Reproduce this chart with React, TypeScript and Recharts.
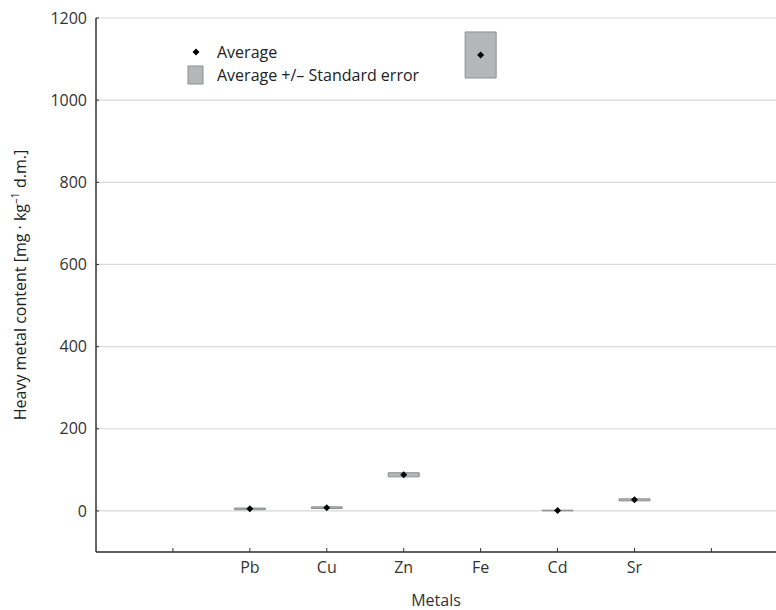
import React from 'react';
import {
  ComposedChart,
  Bar,
  Scatter,
  XAxis,
  YAxis,
  CartesianGrid,
} from 'recharts';

const metals = ['Pb', 'Cu', 'Zn', 'Fe', 'Cd', 'Sr'];
const averages = [5, 8, 88, 1110, 1, 27];
const stdErrors = [2, 2, 5, 56, 0.8, 2.5];
const yTicks = [0, 200, 400, 600, 800, 1000, 1200];
const xTicks = [1, 2, 3, 4, 5, 6, 7, 8];

// metals sit on slots 2..7, slots 1 and 8 stay empty
const data = metals.map((name, i) => ({
  name,
  pos: i + 2,
  avg: averages[i],
  range: [averages[i] - stdErrors[i], averages[i] + stdErrors[i]],
}));

const tickLabel = (v: number) => {
  const d = data.find((r) => r.pos === v);
  return d ? d.name : '';
};

const FONT = '"Open Sans", "Noto Sans", sans-serif';
const FS = 16;
const AXIS = '#333333';
const BOX_FILL = '#b4b6b8';
const BOX_STROKE = '#8d8f91';

const Diamond = (props: any) => {
  const { cx, cy } = props;
  if (cx == null || cy == null) return null;
  const r = 3.5;
  return (
    <polygon
      points={`${cx},${cy - r} ${cx + r},${cy} ${cx},${cy + r} ${cx - r},${cy}`}
      fill="#000"
    />
  );
};

const LegendOverlay = () => (
  <svg
    width={460}
    height={100}
    style={{ position: 'absolute', left: 0, top: 0, pointerEvents: 'none' }}
  >
    <polygon points="196,48.5 199.5,52 196,55.5 192.5,52" fill="#000" />
    <text x={217} y={57.5} fontFamily={FONT} fontSize={FS} fill="#222">
      Average
    </text>
    <rect x={188} y={66} width={15} height={18} fill={BOX_FILL} stroke={BOX_STROKE} />
    <text x={217} y={80.5} fontFamily={FONT} fontSize={FS} fill="#222">
      Average +/– Standard error
    </text>
  </svg>
);

const YLabel = (props: any) => {
  const { viewBox } = props;
  const cx = viewBox.x + 20;
  const cy = viewBox.y + viewBox.height / 2;
  return (
    <text
      x={cx}
      y={cy}
      transform={`rotate(-90, ${cx}, ${cy})`}
      textAnchor="middle"
      dominantBaseline="central"
      fontFamily={FONT}
      fontSize={FS}
      fill="#222"
    >
      Heavy metal content [mg · kg
      <tspan fontSize={11} dy={-6}>–1</tspan>
      <tspan dy={6}> d.m.]</tspan>
    </text>
  );
};

export default function App() {
  return (
    <div style={{ position: 'absolute', left: 0, top: 0, width: 776, height: 610, background: '#fff' }}>
      <ComposedChart
        width={776}
        height={610}
        data={data}
        margin={{ top: 18, right: 0, bottom: 0, left: 0 }}
      >
        <CartesianGrid horizontal vertical={false} stroke="#d9d9d9" strokeWidth={1.2} />
        <XAxis
          dataKey="pos"
          type="number"
          domain={[0, 8.84]}
          allowDataOverflow
          ticks={xTicks}
          tickFormatter={tickLabel}
          interval={0}
          height={58}
          tickSize={-4}
          tickMargin={14}
          axisLine={{ stroke: AXIS, strokeWidth: 1.5 }}
          tickLine={{ stroke: AXIS }}
          tick={{ fill: '#333', fontSize: FS, fontFamily: FONT }}
          label={{
            value: 'Metals',
            position: 'insideBottom',
            offset: 4,
            fill: '#333',
            fontSize: FS,
            fontFamily: FONT,
          }}
        />
        <XAxis
          xAxisId="top"
          dataKey="pos"
          type="number"
          orientation="top"
          domain={[0, 8.84]}
          allowDataOverflow
          ticks={xTicks}
          tick={false}
          height={0}
          tickSize={-4}
          axisLine={{ stroke: AXIS, strokeWidth: 1.5 }}
          tickLine={{ stroke: AXIS }}
        />
        <YAxis
          type="number"
          domain={[-100, 1200]}
          ticks={yTicks}
          interval={0}
          width={96}
          tickSize={-3}
          tickMargin={12}
          axisLine={{ stroke: AXIS, strokeWidth: 1.5 }}
          tickLine={{ stroke: AXIS }}
          tick={{ fill: '#333', fontSize: FS, fontFamily: FONT }}
          label={<YLabel />}
        />
        <Bar
          dataKey="range"
          barSize={31}
          fill={BOX_FILL}
          stroke={BOX_STROKE}
          strokeWidth={1}
          isAnimationActive={false}
        />
        <Scatter dataKey="avg" shape={<Diamond />} isAnimationActive={false} />
      </ComposedChart>
      <LegendOverlay />
    </div>
  );
}
